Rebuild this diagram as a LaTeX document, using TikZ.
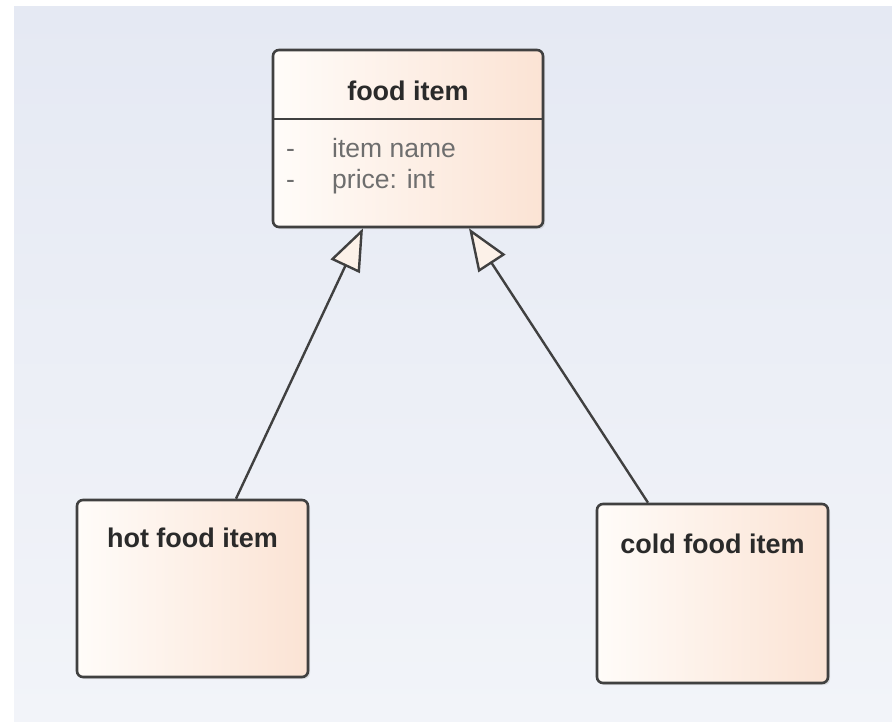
\documentclass[tikz,border=0pt]{standalone}
\usepackage{fontspec}
\setmainfont{Liberation Sans}
\usetikzlibrary{arrows.meta,shadows}

\definecolor{canvastop}{HTML}{E5E9F3}
\definecolor{canvasbot}{HTML}{F2F4F9}
\definecolor{classleft}{HTML}{FFFCF9}
\definecolor{classright}{HTML}{FBE3D4}
\definecolor{edgegray}{HTML}{404040}
\definecolor{titlegray}{HTML}{2A2A2A}
\definecolor{attrgray}{HTML}{6E6E6E}
\definecolor{headfill}{HTML}{FCF1E8}

\tikzset{
  classbox/.style={draw=edgegray, line width=2.6pt, rounded corners=6pt,
    left color=classleft, right color=classright, inner sep=0pt,
    drop shadow={shadow xshift=2pt, shadow yshift=-2pt, opacity=0.2}},
  classtitle/.style={font=\fontsize{27}{31}\selectfont\bfseries, text=titlegray,
    anchor=base, inner sep=0pt},
  attrtext/.style={font=\fontsize{26.5}{31}\selectfont, text=attrgray,
    anchor=base west, inner sep=0pt},
  inherits/.style={draw=edgegray, line width=2.4pt,
    -{Triangle[open, length=42pt, width=32pt, fill=headfill, line width=2.4pt]}},
}

\begin{document}
\begin{tikzpicture}[x=1pt, y=-1pt]
  \useasboundingbox (0,0) rectangle (892,721);
  % canvas
  \shade[top color=canvastop, bottom color=canvasbot] (14,6) rectangle (892,721);

  % classes
  \node[classbox, minimum width=270pt, minimum height=177pt] (food) at (408,138.5) {};
  \node[classbox, minimum width=231pt, minimum height=177pt] (hot) at (192.5,588.5) {};
  \node[classbox, minimum width=231pt, minimum height=179pt] (cold) at (712.5,593.5) {};

  % compartment separator of the base class
  \coordinate (sepL) at (273,119);
  \coordinate (sepR) at (543,119);
  \draw[edgegray, line width=2.6pt] (sepL) -- (sepR);

  % names
  \node[classtitle] (foodname) at (408,100) {food item};
  \node[classtitle] (hotname) at (192.5,547) {hot food item};
  \node[classtitle] (coldname) at (712.5,553) {cold food item};

  % attributes
  \node[attrtext] (dash1) at (286,157) {-};
  \node[attrtext] (attr1) at (332,157) {item name};
  \node[attrtext] (dash2) at (286,188) {-};
  \node[attrtext] (attr2) at (332,188) {price: int};

  % generalisation links
  \coordinate (hotup) at ([xshift=43.5pt]hot.north);
  \coordinate (coldup) at ([xshift=-64.5pt]cold.north);
  \coordinate (foodL) at ([xshift=-45pt]food.south);
  \coordinate (foodR) at ([xshift=61pt]food.south);
  \draw[inherits] (hotup) -- (foodL);
  \draw[inherits] (coldup) -- (foodR);
\end{tikzpicture}
\end{document}
